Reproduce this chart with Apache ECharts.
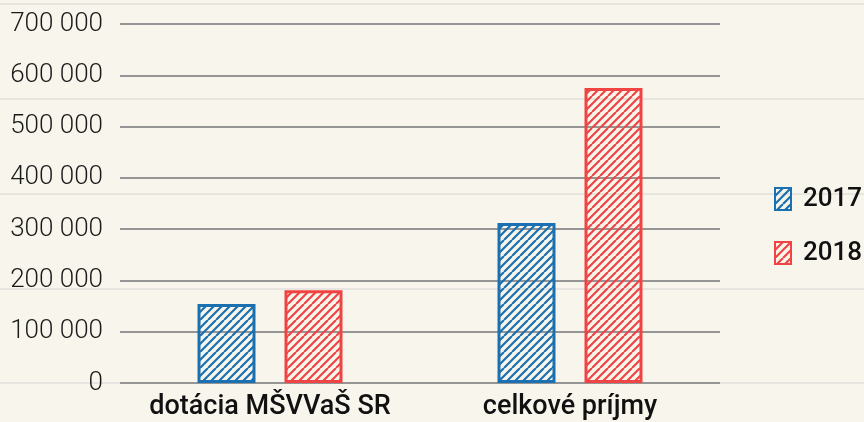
<!DOCTYPE html>
<html>
<head>
<meta charset="utf-8">
<script src="https://cdn.jsdelivr.net/npm/echarts@6/dist/echarts.min.js"></script>
<style>
html,body{margin:0;padding:0;background:#f8f6ec;}
#c{width:864px;height:422px;}
</style>
</head>
<body>
<div id="c"></div>
<script>
const categories = ['dotácia MŠVVaŠ SR', 'celkové príjmy'];
const seriesNames = ['2017', '2018'];
const values2017 = [154000, 312000];
const values2018 = [181000, 575000];
const yTicks = [0, 100000, 200000, 300000, 400000, 500000, 600000, 700000];

const colors = ['#1a70b0', '#f04444'];

function hatch(color) {
  const s = 16;
  const cv = document.createElement('canvas');
  cv.width = s; cv.height = s;
  const ctx = cv.getContext('2d');
  ctx.strokeStyle = color;
  ctx.lineWidth = 2.2;
  ctx.beginPath();
  for (let k = -2; k <= 2; k++) {
    ctx.moveTo(k * s, s);
    ctx.lineTo(k * s + s, 0);
    ctx.moveTo(k * s + s / 2, s);
    ctx.lineTo(k * s + s + s / 2, 0);
  }
  ctx.stroke();
  return { image: cv, repeat: 'repeat' };
}

function fmt(v) {
  return String(v).replace(/\B(?=(\d{3})+(?!\d))/g, ' ');
}

const chart = echarts.init(document.getElementById('c'));
chart.setOption({
  backgroundColor: '#f8f6ec',
  animation: false,
  grid: [
    { left: 120, right: 144, top: 24, bottom: 39 },
    { left: 0, right: 0, top: 4, bottom: 39 }
  ],
  legend: {
    orient: 'vertical',
    left: 769,
    top: 181,
    icon: 'rect',
    itemWidth: 16,
    itemHeight: 22,
    itemGap: 28,
    textStyle: { fontFamily: 'Roboto', fontWeight: 500, fontSize: 26, color: '#111', padding: [0, 0, 0, 7] },
    data: seriesNames
  },
  xAxis: [
    {
      type: 'category',
      gridIndex: 0,
      data: categories,
      axisLine: { show: false },
      axisTick: { show: false },
      axisLabel: { interval: 0, fontFamily: 'Roboto', fontWeight: 500, fontSize: 27, color: '#111', margin: 11 }
    },
    { type: 'value', gridIndex: 1, min: 0, max: 1, show: false }
  ],
  yAxis: [
    {
      type: 'value',
      gridIndex: 0,
      min: yTicks[0],
      max: yTicks[yTicks.length - 1],
      interval: 100000,
      axisLine: { show: false },
      axisTick: { show: false },
      splitLine: { lineStyle: { color: '#959595', width: 2 } },
      axisLabel: {
        fontFamily: 'Roboto', fontWeight: 300, fontSize: 26, color: '#1a1a1a', margin: 17,
        formatter: fmt
      },
      z: 1
    },
    {
      type: 'value',
      gridIndex: 1,
      min: 0, max: 4, interval: 1,
      axisLine: { show: false },
      axisTick: { show: false },
      axisLabel: { show: false },
      splitLine: { lineStyle: { color: '#e6e5df', width: 2 } },
      z: 0
    }
  ],
  series: [
    {
      name: seriesNames[0],
      type: 'bar',
      data: values2017,
      barWidth: 58,
      barGap: '50%',
      itemStyle: { color: hatch(colors[0]), borderColor: colors[0], borderWidth: 3 },
      z: 3
    },
    {
      name: seriesNames[1],
      type: 'bar',
      data: values2018,
      barWidth: 58,
      barGap: '50%',
      itemStyle: { color: hatch(colors[1]), borderColor: colors[1], borderWidth: 3 },
      z: 3
    }
  ]
});
</script>
</body>
</html>
